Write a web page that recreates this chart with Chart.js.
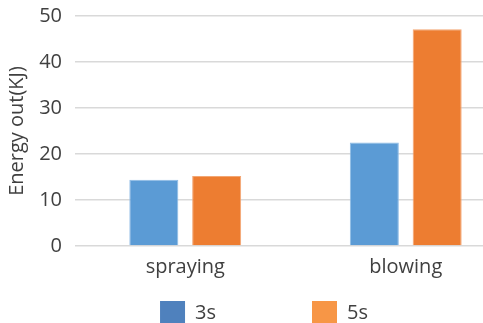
<!DOCTYPE html>
<html>
<head>
<meta charset="utf-8">
<script src="https://cdn.jsdelivr.net/npm/chart.js@4/dist/chart.umd.min.js"></script>
<style>
  html, body { margin: 0; padding: 0; overflow: hidden; background: #ffffff; }
  #wrap { width: 526px; height: 331px; }
</style>
</head>
<body>
<div id="wrap"><canvas id="chart" width="526" height="331"></canvas></div>
<script>
// Energy output per method, for the two durations
const categories = ['spraying', 'blowing'];
const seriesNames = ['3s', '5s'];
const energy3s = [14.4, 22.5];
const energy5s = [15.2, 47.1];
const yTickLabels = [0, 10, 20, 30, 40, 50];

const barColors = ['#5B9BD5', '#ED7D31'];
const barEdges = ['#8DBBE6', '#F3A673'];
const legendColors = ['#4F81BD', '#F79646'];
const textColor = '#404040';
const fontFamily = '"Open Sans", "Noto Sans", sans-serif';

// Wide gap between the two legend entries without a tall legend box:
// the legend reserves a short strip and is shifted up by the gap.
const legendGap = 96;
const legendStrip = 36;
const legendPlacement = {
  id: 'legendPlacement',
  beforeUpdate(chart) {
    const lg = chart.legend;
    if (lg && !lg._stripFit) {
      const baseFit = lg.fit.bind(lg);
      lg.fit = function () { baseFit(); this.height = legendStrip; };
      lg._stripFit = true;
    }
  },
  afterLayout(chart) {
    const lg = chart.legend;
    if (lg) {
      lg.top -= legendGap - 6;
      lg.left += 6;
      lg.right += 6;
    }
  }
};

const ctx = document.getElementById('chart').getContext('2d');
new Chart(ctx, {
  type: 'bar',
  data: {
    labels: categories,
    datasets: [
      { label: seriesNames[0], data: energy3s, backgroundColor: barColors[0], borderColor: barEdges[0], borderWidth: 1 },
      { label: seriesNames[1], data: energy5s, backgroundColor: barColors[1], borderColor: barEdges[1], borderWidth: 1 }
    ]
  },
  plugins: [legendPlacement],
  options: {
    responsive: false,
    animation: false,
    datasets: { bar: { categoryPercentage: 0.57, barPercentage: 0.78 } },
    layout: { padding: { top: 16, right: 10, left: 0, bottom: 0 } },
    plugins: {
      tooltip: { enabled: false },
      legend: {
        position: 'bottom',
        labels: {
          color: textColor,
          font: { family: fontFamily, size: 20 },
          boxWidth: 25,
          boxHeight: 25,
          padding: legendGap,
          generateLabels: () => seriesNames.map((name, i) => ({
            text: name,
            fillStyle: legendColors[i],
            strokeStyle: legendColors[i],
            lineWidth: 0,
            fontColor: textColor,
            datasetIndex: i,
            hidden: false
          }))
        }
      }
    },
    scales: {
      x: {
        afterFit: (scale) => { scale.height = 49; },
        grid: { display: false, drawTicks: false },
        border: { display: false },
        ticks: { color: textColor, font: { family: fontFamily, size: 20 }, padding: 9 }
      },
      y: {
        min: 0,
        max: 50,
        afterFit: (scale) => {
          scale.width = 75;
          scale.paddingTop = 0;
          scale.paddingBottom = 0;
        },
        grid: { color: '#D9D9D9', lineWidth: 1.5, drawTicks: false },
        border: { display: false },
        ticks: {
          stepSize: 5,
          color: textColor,
          font: { family: fontFamily, size: 20 },
          padding: 13,
          callback: (v) => (yTickLabels.includes(v) ? String(v) : '')
        },
        title: {
          display: true,
          text: 'Energy out(KJ)',
          color: textColor,
          font: { family: fontFamily, size: 20 },
          padding: { top: 5, bottom: 0 }
        }
      }
    }
  }
});
</script>
</body>
</html>
